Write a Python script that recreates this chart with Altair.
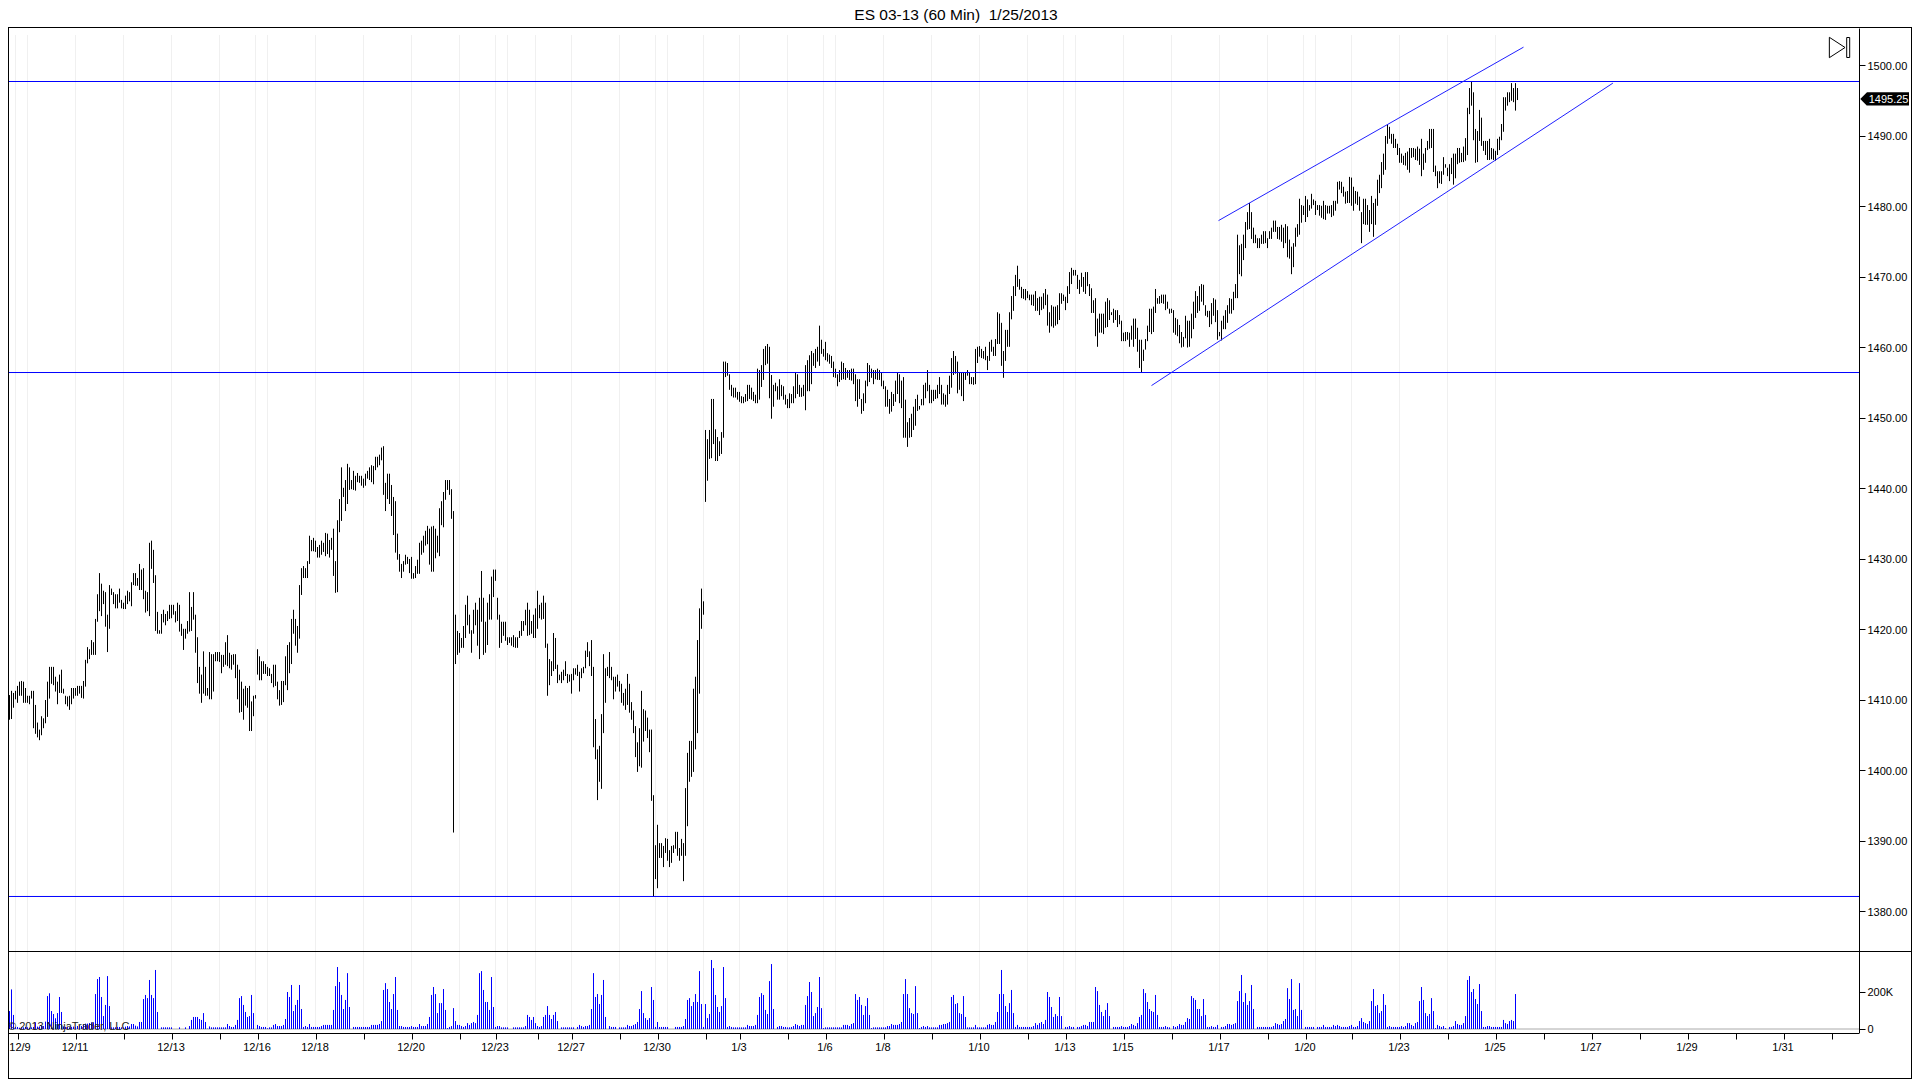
import altair as alt
import pandas as pd

title_text = "ES 03-13 (60 Min)\u00a0 1/25/2013"
FONT = "Liberation Sans"

# (high, low) of each 60 minute bar
bars_a = [
(1410.7,1407.2),(1411.3,1407.3),(1411,1408.9),(1411.3,1410.1),(1412,1409.6),(1412.6,1410.6),(1412.7,1410.6),(1412.6,1409.6),
(1411.7,1409.6),(1410.6,1409.6),(1410.6,1409.4),(1411.3,1410.2),(1411.3,1406),(1409.3,1405.2),(1406.8,1404.7),(1405.8,1404.3),
(1407.7,1405),(1407.4,1406),(1410,1406.7),(1412.6,1407.6),(1414.7,1410.2),(1414.7,1412.3),(1414.7,1412.1),(1413.3,1411.2),
(1412.6,1409.4),(1413.6,1411),(1414.3,1411),(1411.6,1410.9),(1410.6,1409.4),(1410.5,1409.1),(1410.6,1408.6),(1411.7,1409.4),
(1411.7,1410.2),(1411.7,1410.6),(1412,1410.6),(1412,1410.9),(1412,1410.3),(1412.7,1410.2),(1415.7,1411.9),(1417.5,1415.2),
(1417.2,1415.8),(1418.5,1416.4),(1418.2,1416.4),(1421.5,1416.4),(1425,1421.1),(1428,1422.6),(1426.5,1421.9),(1425.5,1423.6),
(1425.3,1420.4),(1422.1,1416.8),(1426.3,1420.1),(1425.8,1424.9),(1425.3,1423.6),(1425,1423),(1425,1423),(1425.8,1423.8),
(1424.2,1423),(1423.8,1422.9),(1424.8,1422.9),(1425.5,1423.6),(1425.3,1424),(1426.7,1423.3),(1428,1426.3),(1428,1426.2),
(1427.3,1426.2),(1429.3,1425.6),(1428.5,1425.6),(1428.7,1424.3),(1425.5,1422.4),(1425.3,1422.6),(1432.3,1421.9),(1432.6,1428.6),
(1431.3,1426.6),(1427.7,1419.8),(1422.5,1419.4),(1419.9,1419.4),(1422.2,1419.4),(1422.8,1421),(1422.2,1420.6),(1422.6,1421.2),
(1423.5,1421.5),(1423.5,1421.6),(1423.5,1422.1),(1422.6,1421),(1423.8,1421.2),(1423.5,1419.7),(1420.8,1419.1),(1420.1,1417.1),
(1420.1,1418.7),(1421.2,1419.4),(1425.3,1419.7),(1423.2,1419.8),(1425.3,1421.4),(1422.1,1416.7),(1418.9,1412.4),(1414.7,1410.9),
(1413.6,1409.6),(1416.9,1410.9),(1414.7,1410.6),(1411.7,1410.6),(1416.8,1410.1),(1416.5,1410.1),(1416.5,1411.2),(1416.8,1415.5),
(1416.8,1415.5),(1416.8,1415.4),(1416.4,1413.8),(1416.4,1414.7),(1418.2,1415),(1419.2,1414.8),(1416.7,1414.5),(1416.4,1414.3),
(1416.5,1415),(1416.5,1413.1),(1415,1410.1),(1414.3,1408.2),(1412.6,1408.3),(1411.6,1407.2),(1412,1409.2),(1411.7,1408.9),
(1412,1405.6),(1409.8,1405.6),(1410.6,1407.7),(1410.7,1410.2),(1417.2,1413.6),(1416.2,1412.8),(1415.5,1412.8),(1415.5,1413.7),
(1415.1,1413.7),(1414.7,1413.4),(1414.5,1413.4),(1413.7,1412.4),(1415,1411.8),(1415,1412),(1412.6,1410.1),(1411.4,1409.2),
(1412.7,1409.3),(1412.7,1409.7),(1416.2,1412.1),(1417.8,1411.4),(1418.2,1413.8),(1421.5,1415.1),(1422.8,1419.4),(1421.5,1417.7),
(1420.5,1416.7),(1426.3,1418.7),(1428.7,1424.9),(1429,1427.3),(1428.7,1427.3),(1429.7,1427.3),(1433.3,1429.3),(1432.7,1431.1),
(1433,1431.1),(1432.6,1431),(1431.7,1430.2),(1432,1430.2),(1432.6,1430.6),(1432.3,1431),(1433.7,1430.4),(1433.6,1430.7),
(1432.7,1430.2),(1433,1431.3),(1434.3,1427.6),(1429.7,1425.2),(1435.5,1425.3),(1438.5,1433.8),(1443,1435.4),(1440.1,1438.8),
(1441.2,1436.8),(1443.5,1437.8),(1443,1439.8),(1441.2,1439.9),(1442.5,1439.8),(1441.8,1439.7),(1442.2,1440.9),(1441.8,1440.8),
(1441.8,1440.4),(1441.4,1440.1),(1442.1,1440.4),(1442.5,1441.4),(1443,1441.2),(1443.3,1440.9),(1443.2,1440.6),(1444.5,1442.6),
(1444.5,1443),(1444.8,1443.3),(1445.8,1444),(1446,1439.1),(1440.8,1436.8),(1442.1,1438.5),(1442.1,1437.8),(1440.5,1436.1),
(1438.8,1433.4),(1438.2,1430.9),(1433.6,1429.9),(1430.7,1428.2),(1429.3,1427.3),(1429.7,1428.2),(1430.6,1429.2),(1430.3,1429.3),
(1430,1428),(1430.3,1427.2),(1428,1427.2),(1429,1427.3),(1429.9,1427.9),(1432.3,1427.9),(1432.6,1430.6),(1433.3,1430.9),
(1434,1431.9),(1434.7,1432.1),(1434.3,1429.2),(1434.6,1428.2),(1434.7,1428.2),(1434.3,1430.1),(1433.3,1430.9),(1437.2,1430.4),
(1438.2,1434.8),(1439.5,1434.5),(1441.2,1438.4),(1441.2,1439.8),(1441.2,1439.1),(1439.9,1435.7),(1436.8,1391.2),
]
bars_b = [
(1422.1,1415.1),(1419.8,1416.4),(1419.5,1416.7),(1418.8,1417.4),(1420.5,1417.4),(1423.5,1418.8),(1424.8,1420.6),(1422.1,1419.4),
(1419.9,1416.7),(1422.8,1419.4),(1423.8,1420.6),(1422.8,1417.7),(1424.5,1415.8),(1428.3,1421.1),(1424.5,1416.4),(1421.1,1416.7),
(1423.8,1417.8),(1425,1421.4),(1427.5,1421.4),(1428.5,1424.6),(1428.5,1426.9),(1424.5,1421.4),(1422.1,1417.4),(1421.1,1418.1),
(1421.1,1419.1),(1421.1,1418.4),(1418.9,1417.8),(1418.9,1418.1),(1418.9,1417.7),(1419.2,1417.5),(1418.9,1417.4),(1418.9,1417.4),
(1419.8,1418.8),(1421.2,1419.1),(1421.2,1419.8),(1422.8,1420.6),(1423.8,1419.1),(1422.8,1419.2),(1421.2,1419.4),(1422.1,1418.8),
(1423,1418.8),(1425.5,1420.1),(1423.5,1421.6),(1423.8,1421.4),(1424.8,1421.5),(1423.8,1417.4),(1418,1410.6),(1415.8,1412.1),
(1415.5,1413.4),(1419.5,1414.1),(1418.8,1414.4),(1415,1412.4),(1413.6,1412.8),(1414,1412.4),(1414.3,1412.8),(1415.5,1413.4),
(1413.7,1412.4),(1413.6,1412.6),(1413.7,1410.9),(1414.5,1412.8),(1414.5,1413.6),(1415,1413.4),(1414,1411.2),(1414.5,1413.1),
(1414.7,1413.8),(1417,1414.5),(1418.2,1416.1),(1416.9,1414.8),(1418.5,1413.4),(1414.7,1403.3),(1407.3,1401.6),(1403,1395.8),
(1403.5,1398.4),(1408,1397.4),(1416.5,1405.3),(1414.5,1409.6),(1414.7,1413.4),(1416.8,1413.1),(1414.7,1412.8),(1413.3,1410.1),
(1413.3,1411.2),(1413.6,1411.9),(1412.7,1411.2),(1412.3,1409.6),(1411,1409.2),(1411.6,1408.6),(1413.7,1409.3),(1412.3,1408.2),
(1409.7,1407.2),(1408.5,1405.3),(1406.3,1401.9),(1404,1399.8),(1406,1400.6),(1411.3,1400.4),(1408.7,1404.1),(1408.5,1405.6),
(1407.5,1404.6),(1405.8,1402.6),(1405.8,1395.7),(1396.5,1382.1),(1389.4,1384.6),(1392.3,1383.3),(1389.7,1387.6),(1389.7,1387.6),
(1389.3,1386.3),(1390.4,1388.3),(1390.3,1387.2),(1388.7,1386.3),(1389.3,1386.9),(1389.4,1388.3),(1391.3,1388.9),(1391.3,1387.9),
(1389,1387.2),(1390.3,1387.9),(1389.7,1384.3),(1397.5,1387.9),(1402.5,1392.1),(1404.2,1398.4),(1404.2,1399.1),(1411.6,1399.8),
(1413.3,1403),(1418.5,1405.3),(1423,1410.9),(1425.8,1420.1),(1424,1422.1),
]
bars_c = [
(1448.3,1438.1),(1447,1441.1),(1448.3,1444.2),(1452.7,1444.3),(1452.7,1446.3),(1448.4,1443.9),(1447.3,1443.9),(1446.7,1444.6),
(1448,1444.9),(1458,1447.2),(1458,1455.8),(1457.8,1456),(1456.2,1454),(1454.7,1453.1),(1454.3,1452.9),(1454.3,1452.9),
(1453.7,1452.6),(1453.7,1452.3),(1453.1,1452.1),(1453,1452.1),(1453.4,1452.3),(1454.7,1452.4),(1454.7,1452.7),(1454.3,1452.6),
(1453.7,1452.4),(1453.3,1452.1),(1457,1452.1),(1456.8,1452.6),(1457.5,1454.4),(1459.8,1455.4),(1460.2,1457.5),(1460.5,1457.7),
(1460.1,1452.8),(1456.1,1449.9),(1454.7,1451.6),(1455,1453.8),(1454.5,1452.6),(1455.5,1452.6),(1454.7,1453.1),(1454.5,1452.6),
(1453.3,1451.9),(1452.7,1451.4),(1453.5,1451.4),(1453.4,1452.1),(1454.5,1452.1),(1456.5,1452.8),(1456.2,1453.4),(1454.7,1453),
(1454.3,1453),(1454.7,1453.1),(1457.5,1451.1),(1458.2,1453.8),(1458.9,1453.8),(1459.5,1454.8),(1459.2,1457.4),(1459.8,1457.1),
(1460.1,1458),(1463.1,1457.4),(1461.1,1459.1),(1459.8,1458.7),(1460.8,1458.2),(1459.2,1458),(1459,1457.7),(1458.8,1457.1),
(1458,1455.8),(1457,1455.7),(1456.2,1454.5),(1456.8,1455.1),(1458,1455.4),(1457.8,1455.5),(1457.1,1455.4),(1456.8,1455.7),
(1456.8,1455.4),(1457,1455.3),(1457,1454.8),(1456.2,1452.4),(1455.5,1451.6),(1455.5,1452.7),(1452.7,1450.6),(1453.5,1451),
(1455.3,1452.1),(1457.8,1454.5),(1457.5,1455.1),(1457,1455.7),(1456.8,1454.8),(1456.8,1455.5),(1457,1455.4),(1456.8,1455.4),
(1456.5,1454.5),(1455.3,1454.1),(1454.5,1451.6),(1454,1451.6),(1452.7,1450.6),(1453.7,1450.9),(1453.4,1451.7),(1455.3,1452.3),
(1456.4,1453.4),(1456.2,1452.1),(1455.3,1451.4),(1455.8,1447.2),(1452.6,1447.2),(1449.4,1445.9),(1450,1447.2),(1450.6,1447.3),
(1451.6,1448.3),(1452.7,1448.9),(1453.3,1451),(1451.7,1451.2),(1452.7,1451.8),(1454.7,1451.8),(1455,1452.8),(1456.8,1453.8),
(1454.7,1452.1),(1454,1452.1),(1454,1452.4),(1454,1452.7),(1454.7,1452.8),(1455.8,1453.4),(1454.7,1451.9),(1453.5,1451.9),
(1453.3,1451.6),(1454.7,1451.9),(1456,1453.4),(1458.5,1454.3),(1459.5,1456.1),(1458.8,1456.3),(1458,1453.5),(1456.4,1454),
(1456.4,1453.1),(1456.5,1452.4),(1456.4,1455.4),(1456.8,1456),(1456.4,1454.8),(1455.8,1454.8),(1455.8,1454.7),(1459.8,1454.8),
(1460.1,1457.8),(1460.2,1458.7),(1459.8,1458.5),(1459.5,1458.4),(1460.1,1458.2),(1458.8,1456.8),(1460.8,1458.1),(1461.1,1459.4),
(1460.1,1458.8),(1461.2,1458.8),(1465,1460.5),(1464.8,1460.5),(1463.5,1457.4),(1459.5,1455.7),(1462.5,1458.1),(1462.5,1460.1),
(1465,1460.1),(1467.3,1464),(1468.7,1465.2),(1470.3,1467.3),(1471.6,1468.6),(1469.7,1468.2),(1468.6,1467),(1468.3,1466.9),
(1468.3,1466.7),(1468,1467),(1467.5,1466.7),(1467.5,1466),(1467.5,1465.9),(1468,1465.2),(1467,1465.2),(1467.2,1464.6),
(1467.2,1465.3),(1467.7,1465.5),(1468.3,1466),(1467.5,1463.1),(1465,1462.1),(1466,1463),(1465.8,1462.8),(1465.8,1463.1),
(1466,1463.3),(1467.7,1463.9),(1467.7,1466.2),(1467.5,1466.6),(1467.2,1465.3),(1468.7,1466.3),(1470.7,1467.6),(1471.3,1469),
(1471,1470.2),(1471,1470.2),(1470.3,1468.3),(1469.6,1467.6),(1470.6,1468.6),(1470,1467.9),(1470.7,1467.6),(1470.7,1468.7),
(1469,1467.3),(1468.4,1464.9),(1466.7,1464.9),(1467,1461.6),(1464.1,1460.1),(1464.8,1462.1),(1464.8,1462.1),(1464.8,1461.9),
(1466.5,1462.8),(1467,1462.9),(1466.7,1463.9),(1465,1464.6),(1465.5,1463.5),(1465.3,1463.9),(1465.3,1462.9),(1464.6,1463.3),
(1463.8,1460.9),(1462.1,1460.9),(1462.2,1460.9),(1462.2,1461.1),(1462.1,1460.1),(1463.1,1461.1),(1464.1,1460.1),(1464.1,1461.2),
(1462.8,1459.4),(1461.1,1457.1),(1461.1,1456.4),(1459.7,1458.1),(1461.2,1459.7),(1463.1,1460.9),(1465.5,1462.2),(1465.5,1461.9),
(1465.8,1462.2),(1468.3,1464.9),(1467,1466.2),(1467.3,1466.2),(1467.5,1466.3),(1467.5,1466.2),(1467.5,1465.3),(1466.5,1465.5),
(1465.5,1464.8),(1465.5,1464.9),(1465.3,1462.1),(1464.2,1461.8),(1464,1461.6),(1463.2,1460.6),
]
bars_d = [
(1462.2,1460),(1461.5,1460.1),(1464.5,1461.3),(1463.8,1460),(1463.8,1460.1),(1464.8,1461.3),(1466.5,1462.6),(1468,1464.2),
(1467.3,1464.9),(1468.7,1465.2),(1469,1466.5),(1468.9,1466),(1466,1464.5),(1465.2,1464.3),(1465.2,1462.9),(1466.3,1463.3),
(1467,1464.5),(1466.8,1463.6),(1465.3,1461.1),(1462.2,1461.6),(1463.8,1461),(1464.5,1462.6),(1465.3,1462.6),(1466,1463.5),
(1467,1464.8),(1466.9,1464.8),(1467.9,1465.3),(1469,1467),(1476,1467),(1474.5,1470.4),(1474.7,1470.1),(1476,1472.4),
(1477.8,1474.1),(1479.2,1476.7),(1480.5,1476.8),(1479.2,1475.4),(1477,1474.8),(1476,1474.8),(1475.5,1474.1),(1475.5,1474.1),
(1476,1474.7),(1476.5,1474.7),(1476.5,1474.8),(1475.5,1474.1),(1476.5,1475.4),(1477,1475.4),(1478,1476.4),(1478,1476.4),
(1477.1,1475.4),(1477.1,1475.3),(1477.4,1475),(1477,1474.1),(1477.5,1474.8),(1477.2,1472.8),(1475.3,1472.6),(1474.3,1470.4),
(1474.8,1471.4),(1477,1474.3),(1477.5,1475.7),(1481.1,1476),(1480.2,1477.7),(1480.1,1478.8),(1481.5,1477.8),(1481,1478.5),
(1480.2,1479.4),(1481.8,1479.7),(1481,1480.2),(1480.8,1478.8),(1480.2,1479.5),(1480.2,1478.7),(1480.1,1478.4),(1480.8,1478.2),
(1480.2,1478.1),(1480.1,1479),(1480.1,1479),(1480.2,1478.5),(1480.8,1478.7),(1480.8,1479.4),
]
bars_e = [
(1483.5,1480.4),(1483.6,1482.4),(1483.5,1481.9),(1482.8,1481.4),(1482.1,1480.4),(1482.2,1480.5),(1484.2,1480.5),(1484.1,1480.1),
(1482.8,1479.4),(1482.2,1480.4),(1482.1,1480.2),(1481.4,1479.4),(1479.2,1474.8),(1481.1,1477.5),(1481.1,1477.4),(1480.2,1477.4),
(1479.5,1476.4),(1481.5,1477.5),(1480.5,1475.7),(1481.1,1477.4),(1483.8,1480.1),(1484.5,1481.9),(1486.3,1482.6),(1487.5,1484.5),
(1490,1485.2),(1491.7,1488.9),(1491.3,1489.6),(1490.3,1488.9),(1490.3,1488.3),(1489.6,1488.3),(1488.9,1487.3),(1488.3,1486.2),
(1487.5,1486.2),(1487.2,1485.9),(1487.6,1485.8),(1487.8,1485.2),(1488.3,1484.8),(1488.3,1486.9),(1488.3,1487),(1488.2,1486.6),
(1488.5,1486.5),(1488.2,1485.9),(1489.6,1484.3),(1487.5,1485.2),(1488.3,1486.2),(1489.3,1488),(1491,1488.2),(1491,1488.3),
(1491,1484.9),(1485.8,1484.3),(1485,1482.6),(1485,1483.3),(1485,1483.2),(1487,1484.5),(1486,1485.5),(1485.5,1484.3),
(1486,1483.6),(1486.9,1484.6),(1487.5,1483.1),(1487.5,1484),(1488.3,1486),(1488.3,1486.2),(1487.6,1486.3),(1488.5,1486.3),
(1489.7,1486.5),(1494,1487.3),(1496.8,1493.1),(1497.7,1494.3),(1496.2,1489.4),(1491,1486.2),(1490.7,1486.3),(1493.7,1489.3),
(1492.6,1488.6),(1489.3,1487.9),(1489.3,1487.3),(1489.3,1486.6),(1489.6,1486.6),(1488.3,1486.7),(1488.2,1486.6),(1487.9,1486.5),
(1489.6,1487.3),(1489.9,1488),(1491.7,1489.4),(1495.5,1490.6),(1495.5,1493.6),(1496.2,1494.3),(1496.2,1494.8),(1497.5,1495),
(1496.8,1494.8),(1497.5,1493.6),(1496.8,1495.1),
]

# volume of each bar, in thousands
vol_a = [97,214,76, 11,11,7,9,9,11,9,7,9,11,36,13,14,18,16,40, 178,193,97,81,58,86,173,92,
 14,11,11,9,11,13,11,16,18,16,25,29,29,32,36,36, 189,270,281,173,70,130,286,124,
 9,9,9,11,11,9,9,13,16,14,27,27,18,14,38,38, 162,184,167,265,184,167,319,92,
 0,9,9,9,9,9,9,0,0,0,9,0,0,9,0,16, 49,65,65,65,54,49,86,38,2,14,9,9,9,9,9,9,9,9,27,16,11,11,22,49,
 167,178,130,92,65,70,184,86,
 0,22,16,11,11,11,4,9,9,22,27,16,16,16,22,54, 200,173,238,97,130,157,238,108,
 11,16,11,27,11,11,11,11,11,16,22,22,22,22,22,103, 232,335,254,184,108,157,302,119,
 0,11,11,11,11,11,11,11,11,11,22,22,22,22,27,43, 211,248,216,146,108,189,281,103,
 16,16,11,11,11,11,16,11,11,11,27,16,16,16,27,65, 184,227,189,86,140,140,216,103,
 5,11,16,113,43,22,22,16,11,16,32,22,32,38,32,76, 302,313,211,146,146,103,281,119,
 11,16,16]
vol_b = [9,9,9,9,0,0,9,9,9,9,9,9, 16,76,65,49,65,32,16,11,16,65,76,124,76,54,76,92,43,
 0,9,9,9,9,9,9,9,0,11,22,16,11,16,16,22,108,302,173,189,135,184,265,65,
 0,16,11,11,11,0,9,9,9,9,22,16,16,22,27,38,108,205,86,59,49,59,227,157,
 11,38,11,11,11,11,11,0,0,0,11,11,11,11,16,54,157,167,124,146,189,146,313,135,
 11,135,59,81,373,329,184,119,92,124,335,167,
 11,16,11,9,9,9,9,9,9,9,22,16,16,16,22,76,173,194,184,103,81,259,351,108,
 0,11,16,16,11,11,9,9,11,16,27,22,16,22,22,130,178,254,200,70,86,119,281,113,
 5,9,9,9,9,9,9,9,9,9,22,22,22,16,27,32,189,157,173,130,76,124,167,76,
 5,9,9,9,9,9,9,9,16,16,27,22,22,22,27,38,189,270,189,113,86,81,232,86,
 5,11,16,11,16,9,9,9,9,9,22,22,27,27,32,38,173,184,135,140,86,81,178,65,
 9,9,9,9,22,9,9,9,9,9,22,27,22,22,38,92,189]
vol_c = [319,189,124,92,140,211,86,
 11,22,11,11,11,11,11,11,11,16,32,22,32,38,27,49, 200,173,119,65,81,70,173,70,
 0,11,11,16,11,11,0,11,11,16,22,22,16,38,38,38, 227,205,130,92,70,103,140,70,
 0,11,11,11,11,16,11,11,11,16,27,22,16,32,65,76, 216,194,146,108,97,92,184,76,
 11,11,11,16,11,9,0,16,11,16,27,22,22,38,59,54, 178,167,157,108,108,70,162,76,
 11,11,16,11,11,22,0,11,11,16,27,27,22,27,32,151, 205,292,146,194,130,151,238,108,
 0,11,11,11,11,11,11,11,11,16,32,27,22,27,43,54, 221,162,270,103,108,70,248,103,
 0,11,11,11,11,11,0,11,11,11,22,11,11,11,11,22,16,22,16,11,11,11,11,16,22,11,11,16,43,59,38,32,27,43,
 151,216,124,130,86,97,189,130,
 11,16,11,11,11,11,11,16,11,16,32,32,22,16,32,38, 151,227,157,86,70,81,167,97,
 5,22,16,11,16,5,0,11,11,16,43,27,22,22,32,70, 265,286,200,216,162,135,243,97,
 11,11,16,16,11,11,11,11,11, 11,49,32,27,43,49,43,189]

# x positions are bar numbers counted from the first bar of the chart
grid_bars = [3,9,33,57,81,105,123,129,153,177,201,225,243,249,263,281,305,323,329,347,365,389,407,413,437,461,485,509,527,533,557,581,605,629,647,653,671,695,719,743]
tick_bars = [4,33,57,81,105,124,153,177,201,225,243,264,281,305,324,348,365,389,408,437,461,485,509,528,557,581,605,629,648,671,695,719,743,767,791,815,839,863,887,911]
tick_names = {4:"12/9",33:"12/11",81:"12/13",124:"12/16",153:"12/18",201:"12/20",243:"12/23",281:"12/27",324:"12/30",365:"1/3",408:"1/6",437:"1/8",485:"1/10",528:"1/13",557:"1/15",605:"1/17",648:"1/20",695:"1/23",743:"1/25",791:"1/27",839:"1/29",887:"1/31"}

levels = [1497.73, 1456.45, 1382.13]
channel_up = [(604.5, 1478.0), (757, 1502.6)]
channel_dn = [(571, 1454.6), (801.7, 1497.5)]
price_ticks = list(range(1380, 1501, 10))
vol_ticks = [0, 200]
last_price = 1495.25

bars = bars_a + bars_b + bars_c + bars_d + bars_e
vols = vol_a + vol_b + vol_c

df = pd.DataFrame({"i": range(len(bars)), "h": [b[0] for b in bars], "l": [b[1] for b in bars]})
dv = pd.DataFrame({"i": range(len(vols)), "v": vols, "z": 0})
dg = pd.DataFrame({"i": grid_bars})
dl = pd.DataFrame({"p": levels})
dc = pd.DataFrame([{"i": a, "p": b, "k": "up"} for a, b in channel_up] + [{"i": a, "p": b, "k": "dn"} for a, b in channel_dn])
one = pd.DataFrame({"a": [0]})

label_expr = "{" + ",".join(f"'{k}':'{v}'" for k, v in tick_names.items()) + "}[datum.value] || ''"
X = alt.X("i:Q", title=None,
          scale=alt.Scale(domain=[-0.75, 924.75], range=[0, 1851], nice=False, zero=False),
          axis=alt.Axis(values=tick_bars, labelExpr=label_expr, orient="bottom", offset=-46, grid=False,
                        domain=False, tickColor="black", tickSize=6, labelFont=FONT, labelFontSize=11,
                        labelColor="black", labelPadding=2,
                        labelOffset={"condition": {"test": "datum.value == 4", "value": 2}, "value": -1},
                        labelOverlap=False, labelFlush=False, labelBound=False))
price_scale = alt.Scale(domain=[1374.397, 1505.319], range=[923, 0], nice=False, zero=False)
price_axis = alt.Axis(values=price_ticks, format=".2f", orient="right", offset=-53, grid=False, domainColor="black",
                      tickColor="black", tickSize=6, labelFont=FONT, labelFontSize=11, labelColor="black",
                      labelPadding=2, labelOffset=1, labelOverlap=False, labelFlush=False, labelBound=False)
vol_scale = alt.Scale(domain=[-21.6, 421.6], range=[1005, 923], nice=False, zero=False)
vol_axis = alt.Axis(values=vol_ticks, labelExpr="datum.value == 0 ? '0' : datum.value + 'K'", orient="right", offset=-53,
                    grid=False, domainColor="black", tickColor="black", tickSize=6, labelFont=FONT, labelFontSize=11,
                    labelColor="black", labelPadding=2, labelOffset=0, labelOverlap=False, labelFlush=False, labelBound=False)
def Yp(f):
    return alt.Y(f, title=None, scale=price_scale, axis=price_axis)
def Yv(f):
    return alt.Y(f, title=None, scale=vol_scale, axis=vol_axis)

grid = alt.Chart(dg).mark_rule(color="#f0f0f0", strokeWidth=1).encode(x=X, y=alt.value(7), y2=alt.value(1001))
price_bars = alt.Chart(df).mark_rule(color="black", strokeWidth=1).encode(x=X, y=Yp("h:Q"), y2="l:Q")
hlines = alt.Chart(dl).mark_rule(color="#0000ff", strokeWidth=1).encode(y=Yp("p:Q"), x=alt.value(0), x2=alt.value(1851))
channels = alt.Chart(dc).mark_line(color="#2020ff", strokeWidth=1, clip=False).encode(x=X, y=Yp("p:Q"), detail="k:N")

flag_df = pd.DataFrame({"top": [1496.21], "bot": [1494.31], "p": [last_price], "t": [f"{last_price:.2f}"]})
flag_rect = alt.Chart(flag_df).mark_rect(color="black").encode(y=Yp("top:Q"), y2="bot:Q", x=alt.value(1859), x2=alt.value(1901))
flag_tip = alt.Chart(flag_df).mark_point(shape="M-1,0L0,-1L0,1Z", size=180, filled=True, color="black", opacity=1).encode(y=Yp("p:Q"), x=alt.value(1859))
flag_text = alt.Chart(flag_df).mark_text(color="white", font=FONT, fontSize=11, align="left", baseline="middle", dy=1).encode(y=Yp("p:Q"), x=alt.value(1860.7), text="t:N")

icon_tri = alt.Chart(one).mark_point(shape="M-0.77,-1L0.77,0L-0.77,1Z", size=416, filled=False, color="black", strokeWidth=1, opacity=1).encode(x=alt.value(1829.2), y=alt.value(19.5))
icon_bar = alt.Chart(one).mark_rect(fill="white", stroke="black", strokeWidth=1).encode(x=alt.value(1838.7), x2=alt.value(1841.7), y=alt.value(9.5), y2=alt.value(29.5))

def hframe(y, x0, x1):
    return alt.Chart(one).mark_rule(color="black", strokeWidth=1).encode(y=alt.value(y), x=alt.value(x0), x2=alt.value(x1))
def vframe(x, y0, y1):
    return alt.Chart(one).mark_rule(color="black", strokeWidth=1).encode(x=alt.value(x), y=alt.value(y0), y2=alt.value(y1))

frames = alt.layer(hframe(-0.5, 0, 1904), hframe(923.5, 0, 1904), hframe(1005.5, 0, 1851), hframe(1050.5, 0, 1904),
                   vframe(0.5, 0, 1051), vframe(1903.5, 0, 1051))

baseline = alt.Chart(pd.DataFrame({"v": [0]})).mark_rule(color="#aaaaaa", strokeWidth=1).encode(y=Yv("v:Q"), x=alt.value(0), x2=alt.value(1851))
vol_bars = alt.Chart(dv).mark_rule(color="#0000ff", strokeWidth=1).encode(x=X, y=Yv("v:Q"), y2="z:Q")
copyright_t = alt.Chart(one).mark_text(text="© 2013 NinjaTrader, LLC", font=FONT, fontSize=11, color="#222222", align="left", baseline="middle").encode(x=alt.value(0), y=alt.value(999))

top = alt.layer(grid, price_bars, hlines, channels, flag_rect, flag_tip, flag_text, icon_tri, icon_bar)
bottom = alt.layer(baseline, vol_bars, copyright_t)

chart = (
    alt.layer(top, bottom, frames)
    .resolve_scale(y="independent")
    .properties(
        width=1904, height=1051,
        padding={"left": 0, "top": 20, "right": 0, "bottom": 0},
        autosize=alt.AutoSizeParams(type="none"),
        title=alt.TitleParams(title_text, font=FONT, fontSize=15.5, fontWeight="normal", color="black",
                              anchor="middle", frame="group", dx=-4, offset=4),
    )
    .configure_view(stroke=None)
)
chart.save("out.html", embed_options={"renderer": "svg", "actions": False})
